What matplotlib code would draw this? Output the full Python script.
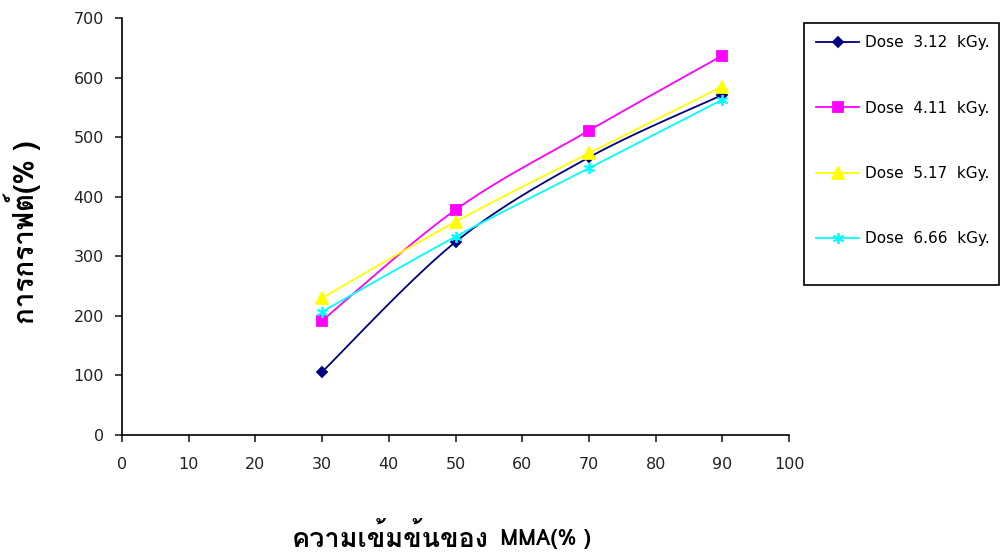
import numpy as np
import matplotlib
matplotlib.use("Agg")
import matplotlib.pyplot as plt
from matplotlib import font_manager
from matplotlib.ft2font import FT2Font
from matplotlib.lines import Line2D
from matplotlib.patches import Rectangle

mma = [30, 50, 70, 90]
dose_labels = ["Dose  3.12  kGy.", "Dose  4.11  kGy.", "Dose  5.17  kGy.", "Dose  6.66  kGy."]
graft_312 = [106, 324, 466, 571]
graft_411 = [192, 378, 511, 637]
graft_517 = [230, 358, 473, 585]
graft_666 = [207, 333, 448, 563]

colors = ["#000080", "#FF00FF", "#FFFF00", "#00FFFF"]
markers = ["D", "s", "^", (6, 2, 0)]
msizes = [5, 7, 8, 8]


def thai_families():
    # families on this system that carry Thai letters
    found = []
    for f in font_manager.fontManager.ttflist:
        if f.name in found:
            continue
        try:
            cmap = FT2Font(f.fname).get_charmap()
        except Exception:
            continue
        if ord("ก") in cmap and ord("ต") in cmap:
            found.append(f.name)
    return found


thai = thai_families()
plt.rcParams["font.family"] = ["DejaVu Sans"] + thai
label_family = thai + ["DejaVu Sans"]


def smooth(x, y, n=30):
    # Bezier smoothing through every point, tangent from neighbours
    x = np.asarray(x, float)
    y = np.asarray(y, float)
    px = np.concatenate([[x[0]], x, [x[-1]]])
    py = np.concatenate([[y[0]], y, [y[-1]]])
    xs, ys = [], []
    t = np.linspace(0, 1, n)[:, None]
    for i in range(1, len(x)):
        p0 = np.array([px[i], py[i]])
        p3 = np.array([px[i + 1], py[i + 1]])
        p1 = p0 + (np.array([px[i + 1], py[i + 1]]) - np.array([px[i - 1], py[i - 1]])) / 6
        p2 = p3 - (np.array([px[i + 2], py[i + 2]]) - np.array([px[i], py[i]])) / 6
        b = ((1 - t) ** 3) * p0 + 3 * ((1 - t) ** 2) * t * p1 + 3 * (1 - t) * t ** 2 * p2 + t ** 3 * p3
        xs.append(b[:, 0])
        ys.append(b[:, 1])
    return np.concatenate(xs), np.concatenate(ys)


fig = plt.figure(figsize=(10, 5.56), dpi=100)
ax = fig.add_axes([0.122, 0.2176, 0.667, 0.75])

series = [graft_312, graft_411, graft_517, graft_666]
for vals, c, m, ms in zip(series, colors, markers, msizes):
    sx, sy = smooth(mma, vals)
    ax.plot(sx, sy, color=c, lw=1.3, zorder=2)
    ax.plot(mma, vals, linestyle="none", marker=m, color=c, ms=ms,
            mec=c, mew=1.3, zorder=3)

ax.set_xlim(0, 100)
ax.set_ylim(0, 700)
ax.set_xticks(np.arange(0, 101, 10))
ax.set_yticks(np.arange(0, 701, 100))
ax.spines["top"].set_visible(False)
ax.spines["right"].set_visible(False)
for s in ("left", "bottom"):
    ax.spines[s].set_linewidth(1.2)
ax.tick_params(direction="out", length=5, width=1.2, labelsize=11.5, colors="#222222")
ax.tick_params(axis="x", pad=11)
ax.tick_params(axis="y", pad=8)

# x label: Thai words in a larger face, then the Latin part beside them
xl = fig.text(0.292, 0.034, "ความเข้มข้นของ", ha="left", va="center",
              fontsize=19.5, fontweight="bold", family=label_family)
ax.annotate(" MMA(% )", xy=(1, 0.45), xycoords=xl, xytext=(3, 0),
            textcoords="offset points", ha="left", va="center",
            fontsize=15.5, fontweight="bold", family=label_family,
            annotation_clip=False)

fig.text(0.022, 0.583, "การกราฟต์(% )", ha="center", va="center", rotation=90,
         fontsize=20, fontweight="bold", family=label_family)

# legend box drawn separately so it can be taller than its entries
fig.patches.append(Rectangle((0.804, 0.4874), 0.195, 0.4712, transform=fig.transFigure,
                             facecolor="white", edgecolor="black", lw=1.2, zorder=4))

handles = [Line2D([0], [0], color=c, marker=m, ms=ms, mec=c, mew=1.3, lw=1.3)
           for c, m, ms in zip(colors, markers, msizes)]
leg = fig.legend(handles, dose_labels, loc="upper left",
                 bbox_to_anchor=(0.804, 0.4874, 0.195, 0.4712), mode="expand",
                 frameon=False, fontsize=11, labelspacing=3.3, handlelength=2.8,
                 handletextpad=0.4, borderpad=0.8, borderaxespad=0)
leg.set_zorder(5)

fig.savefig("out.png", dpi=100)
